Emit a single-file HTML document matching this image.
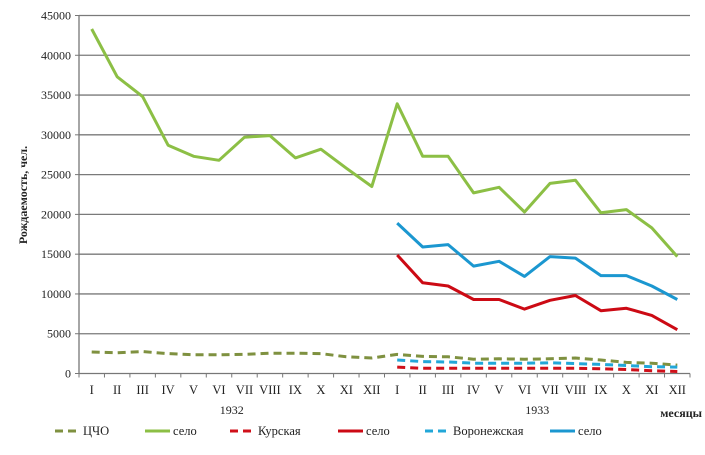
<!DOCTYPE html>
<html><head><meta charset="utf-8"><style>
body{margin:0;background:#fff;}
svg{display:block;font-family:"Liberation Serif",serif;}
</style></head><body>
<svg id="chart" width="705" height="455"></svg>
<script>
const months=["I","II","III","IV","V","VI","VII","VIII","IX","X","XI","XII","I","II","III","IV","V","VI","VII","VIII","IX","X","XI","XII"];
const yTicks=[0,5000,10000,15000,20000,25000,30000,35000,40000,45000];
const cchoTotal=[2700,2600,2750,2500,2350,2350,2400,2550,2550,2500,2100,1950,2400,2150,2100,1800,1850,1800,1850,1950,1700,1400,1300,1050];
const cchoVillage=[43300,37300,34800,28700,27300,26800,29700,29900,27100,28200,25800,23500,33900,27300,27300,22700,23400,20300,23900,24300,20200,20600,18300,14700];
const kurskTotal=[null,null,null,null,null,null,null,null,null,null,null,null,800,650,650,650,650,650,650,650,600,500,350,250];
const kurskVillage=[null,null,null,null,null,null,null,null,null,null,null,null,14900,11400,11000,9300,9300,8100,9200,9800,7900,8200,7300,5500];
const voronezhTotal=[null,null,null,null,null,null,null,null,null,null,null,null,1700,1500,1450,1300,1300,1300,1350,1250,1150,1000,850,800];
const voronezhVillage=[null,null,null,null,null,null,null,null,null,null,null,null,18900,15900,16200,13500,14100,12200,14700,14500,12300,12300,11000,9300];

const NS="http://www.w3.org/2000/svg";
const svg=document.getElementById('chart');
const X0=79,X1=690,Y0=373.5,YTOP=15.5,YMAX=45000;
const bw=(X1-X0)/months.length;
function xs(i){return X0+bw*(i+0.5);}
function ys(v){return Y0-(v/YMAX)*(Y0-YTOP);}
function mk(tag,attrs,txt){const e=document.createElementNS(NS,tag);for(const k in attrs)e.setAttribute(k,attrs[k]);if(txt!=null)e.textContent=txt;svg.appendChild(e);return e;}

yTicks.forEach(v=>{
  if(v>0){const g=mk('line',{x1:X0,x2:X1,y1:ys(v),y2:ys(v),stroke:'#7a7a7a','stroke-width':1.3});
  
  }
  const t=mk('text',{x:X0-8,y:ys(v)+4,'text-anchor':'end','font-size':12,fill:'#222'},String(v));
  
  
  const tk=mk('line',{x1:X0-4,x2:X0,y1:ys(v),y2:ys(v),stroke:'#777'});
  
  
});
const ya=mk('line',{x1:X0,x2:X0,y1:YTOP,y2:Y0,stroke:'#777','stroke-width':1.3});


const xa=mk('line',{x1:X0,x2:X1,y1:Y0,y2:Y0,stroke:'#777','stroke-width':1.3});


for(let i=0;i<=months.length;i++){
  const tk=mk('line',{x1:X0+bw*i,x2:X0+bw*i,y1:Y0,y2:Y0+4,stroke:'#777'});
  
  
}
months.forEach((m,i)=>{
  const t=mk('text',{x:xs(i),y:394,'text-anchor':'middle','font-size':12.5,fill:'#222'},m);
  
  
});
const y1=mk('text',{x:X0+bw*6,y:414,'text-anchor':'middle','font-size':12,fill:'#222'},'1932');


const y2=mk('text',{x:X0+bw*18,y:414,'text-anchor':'middle','font-size':12,fill:'#222'},'1933');


const xt=mk('text',{x:702,y:417,'text-anchor':'end','font-size':12,'font-weight':'bold',fill:'#222'},'месяцы');


const yt=mk('text',{x:0,y:0,'text-anchor':'middle','font-size':12,'font-weight':'bold',fill:'#222',transform:'translate(27,195) rotate(-90)'},'Рождаемость, чел.');



function series(vals,color,dash,name){
  let d='';let started=false;
  vals.forEach((v,i)=>{if(v==null)return;d+=(started?'L':'M')+xs(i).toFixed(1)+','+ys(v).toFixed(1);started=true;});
  const p=mk('path',{d:d,fill:'none',stroke:color,'stroke-width':3,'stroke-linejoin':'round'});
  if(dash)p.setAttribute('stroke-dasharray','8,5');
  
  
}
series(cchoTotal,'#7f9140',true,'line-ccho-total');
series(voronezhTotal,'#22a7d8',true,'line-voronezh-total');
series(kurskTotal,'#d0101a',true,'line-kursk-total');
series(cchoVillage,'#8cbf45',false,'line-ccho-village');
series(voronezhVillage,'#1b97d0',false,'line-voronezh-village');
series(kurskVillage,'#cc0a14',false,'line-kursk-village');

const legend=[['ЦЧО','#7f9140',true,55],['село','#8cbf45',false,145],['Курская','#d0101a',true,230],['село','#cc0a14',false,338],['Воронежская','#22a7d8',true,425],['село','#1b97d0',false,550]];
legend.forEach(([lab,c,dash,x])=>{
  const l=mk('line',{x1:x,x2:x+25,y1:431,y2:431,stroke:c,'stroke-width':3});
  if(dash)l.setAttribute('stroke-dasharray','8,5');
  
  
  const t=mk('text',{x:x+28,y:435,'font-size':12.5,fill:'#222'},lab);
  
  
});
</script>
</body></html>
